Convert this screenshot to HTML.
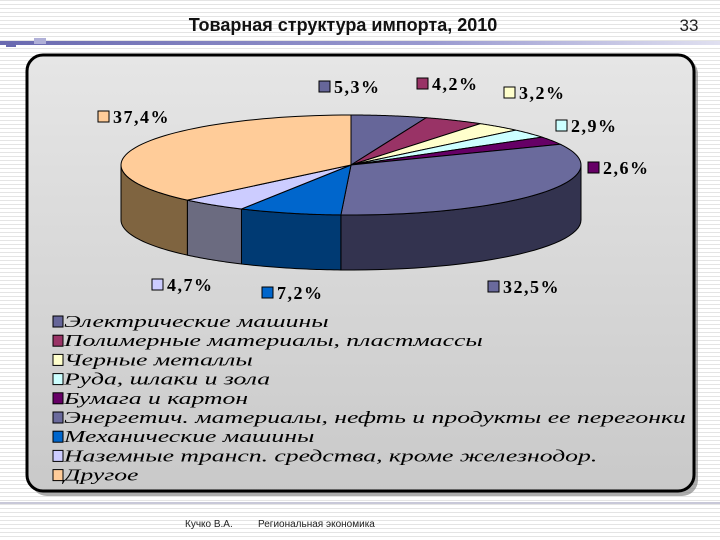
<!DOCTYPE html>
<html><head><meta charset="utf-8"><style>
body{margin:0;width:720px;height:540px;overflow:hidden;background:#fff;}
svg{display:block}
</style></head><body>
<svg id="c" width="720" height="540" xmlns="http://www.w3.org/2000/svg">
<defs>
<pattern id="stripes" width="4" height="4" patternUnits="userSpaceOnUse"><rect width="4" height="4" fill="#fff"/><rect width="4" height="1" fill="#e4e4e4"/></pattern>
<linearGradient id="bg" x1="0" y1="0" x2="0" y2="1"><stop offset="0" stop-color="#e6e6e6"/><stop offset="1" stop-color="#c9c9c9"/></linearGradient>
<linearGradient id="hl" x1="0" y1="0" x2="1" y2="0"><stop offset="0" stop-color="#6a6ab0"/><stop offset="0.6" stop-color="#9a9ad0"/><stop offset="1" stop-color="#e0e0f0"/></linearGradient>
</defs>
<rect width="720" height="540" fill="url(#stripes)"/>
<text x="343" y="31" text-anchor="middle" font-family="Liberation Sans, sans-serif" font-weight="bold" font-size="18" fill="#111">Товарная структура импорта, 2010</text>
<text x="689" y="31" text-anchor="middle" font-family="Liberation Sans, sans-serif" font-size="17" fill="#222">33</text>
<rect x="0" y="41" width="720" height="4" fill="url(#hl)"/>
<rect x="6" y="43" width="10" height="4" fill="#6a6ab0"/>
<rect x="34" y="38" width="12" height="6" fill="#b0b0d8"/>
<rect x="31" y="58" width="667" height="438" rx="16" fill="#777" opacity="0.6"/>
<rect x="27" y="55" width="667" height="436" rx="16" fill="url(#bg)" stroke="#000" stroke-width="3"/>
<rect x="0" y="502" width="720" height="2" fill="#c8c8d8"/>
<text x="185" y="527" font-family="Liberation Sans, sans-serif" font-size="10" fill="#222">Кучко В.А.</text>
<text x="258" y="527" font-family="Liberation Sans, sans-serif" font-size="10" fill="#222">Региональная экономика</text>
<g id="pie"></g>
<g id="labels"></g>
<g id="legend"></g>
</svg>
<script>
const categories=["Электрические машины","Полимерные материалы, пластмассы","Черные металлы","Руда, шлаки и зола","Бумага и картон","Энергетич. материалы, нефть и продукты ее перегонки","Механические машины","Наземные трансп. средства, кроме железнодор.","Другое"];
const values=[5.3,4.2,3.2,2.9,2.6,32.5,7.2,4.7,37.4];
const valueLabels=["5,3%","4,2%","3,2%","2,9%","2,6%","32,5%","7,2%","4,7%","37,4%"];
const topColors=["#666699","#993366","#ffffcc","#ccffff","#660066","#6a6a9c","#0066cc","#ccccff","#ffcc99"];
const sideColors=["#3d3d5c","#5c1f3d","#99997a","#7a9999","#3d003d","#33334f","#003a73","#6b6b80","#7f6440"];
const labelPos=[[328,87],[426,84],[513,93],[565,126],[597,168],[497,287],[271,293],[161,285],[107,117]];
const NS="http://www.w3.org/2000/svg";
const cx=351,cy=165,rx=230,ry=50,depth=55;
function px(t){return cx+rx*Math.cos(t);} function py(t){return cy+ry*Math.sin(t);}
const total=values.reduce((a,b)=>a+b,0);
const pie=document.getElementById('pie');
let a=-Math.PI/2;const ang=[];
values.forEach(v=>{const b=a+v/total*2*Math.PI;ang.push([a,b]);a=b;});
ang.forEach(([s,e],i)=>{
  for(let k=-1;k<=1;k++){
    const lo=Math.max(s,k*2*Math.PI),hi=Math.min(e,k*2*Math.PI+Math.PI);
    if(hi>lo){
      let d=`M${px(lo)},${py(lo)}`;const n=30;
      for(let j=1;j<=n;j++){const t=lo+(hi-lo)*j/n;d+=`L${px(t)},${py(t)}`;}
      for(let j=n;j>=0;j--){const t=lo+(hi-lo)*j/n;d+=`L${px(t)},${py(t)+depth}`;}
      d+='Z';
      const p=document.createElementNS(NS,'path');p.setAttribute('d',d);
      p.setAttribute('fill',sideColors[i]);p.setAttribute('stroke','#000');p.setAttribute('stroke-width','1');
      
      
      pie.appendChild(p);
    }
  }
});
ang.forEach(([s,e],i)=>{
  let d=`M${cx},${cy}L${px(s)},${py(s)}`;const n=60;
  for(let j=1;j<=n;j++){const t=s+(e-s)*j/n;d+=`L${px(t)},${py(t)}`;}
  d+='Z';
  const p=document.createElementNS(NS,'path');p.setAttribute('d',d);
  p.setAttribute('fill',topColors[i]);p.setAttribute('stroke','#000');p.setAttribute('stroke-width','1');
  
  
  pie.appendChild(p);
});
const lab=document.getElementById('labels');
valueLabels.forEach((t,i)=>{
  const [x,y]=labelPos[i];
  const r=document.createElementNS(NS,'rect');r.setAttribute('x',x-9);r.setAttribute('y',y-6);r.setAttribute('width',11);r.setAttribute('height',11);
  r.setAttribute('fill',topColors[i]);r.setAttribute('stroke','#000');
  
  
  lab.appendChild(r);
  const tx=document.createElementNS(NS,'text');tx.setAttribute('x',x+6);tx.setAttribute('y',y+6);
  tx.setAttribute('font-family','Liberation Serif, serif');tx.setAttribute('font-weight','bold');tx.setAttribute('font-size','18');tx.setAttribute('letter-spacing','1.5');
  tx.textContent=t;
  
  
  lab.appendChild(tx);
});
const leg=document.getElementById('legend');
categories.forEach((c,i)=>{
  const y=322+i*19.2;
  const r=document.createElementNS(NS,'rect');r.setAttribute('x',53);r.setAttribute('y',y-6);r.setAttribute('width',10);r.setAttribute('height',11);
  r.setAttribute('fill',topColors[i]);r.setAttribute('stroke','#000');
  
  
  leg.appendChild(r);
  const tx=document.createElementNS(NS,'text');tx.setAttribute('x',0);tx.setAttribute('y',0);
  tx.setAttribute('transform',`translate(64,${y+5}) scale(1.51,1)`);
  tx.setAttribute('font-family','Liberation Serif, serif');tx.setAttribute('font-style','italic');tx.setAttribute('font-size','17');
  tx.textContent=c;
  
  
  leg.appendChild(tx);
});
</script>
</body></html>
